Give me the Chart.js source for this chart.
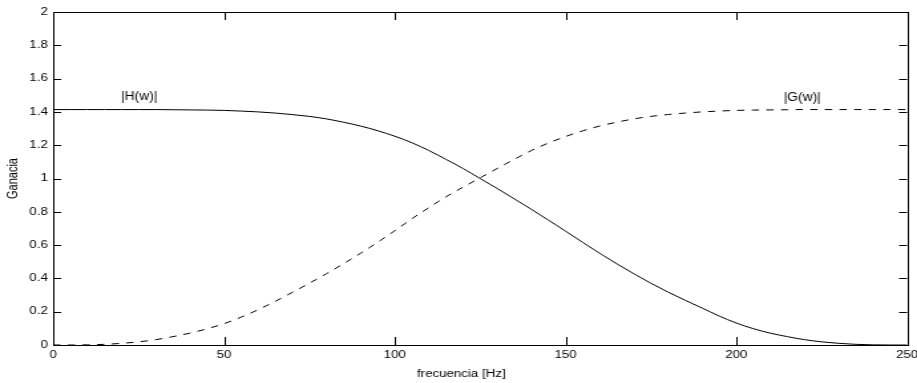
<!DOCTYPE html>
<html><head><meta charset="utf-8">
<script src="https://cdn.jsdelivr.net/npm/chart.js@4.4.1/dist/chart.umd.min.js"></script>
<style>
html,body{margin:0;padding:0;background:#fff;overflow:hidden;width:917px;height:383px;}
#wrap{position:absolute;left:0;top:0;width:690px;height:383px;transform:scale(1.328986,1);transform-origin:0 0;}
canvas{display:block;}
</style></head><body>
<div id="wrap"><canvas id="c" width="690" height="383"></canvas></div>
<script>
// frequency axis (Hz)
const freq = [0,5,10,15,20,25,30,35,40,45,50,55,60,65,70,75,80,85,90,95,100,105,110,115,120,125,130,135,140,145,150,155,160,165,170,175,180,185,190,195,200,205,210,215,220,225,230,235,240,245,250];
// |H(w)| (solid)
const hGain = [1.414,1.414,1.414,1.414,1.414,1.414,1.414,1.413,1.412,1.411,1.409,1.405,1.400,1.393,1.384,1.373,1.358,1.338,1.315,1.287,1.254,1.215,1.168,1.115,1.060,1.000,0.940,0.878,0.815,0.750,0.684,0.617,0.551,0.488,0.428,0.371,0.318,0.269,0.222,0.174,0.132,0.098,0.071,0.050,0.032,0.019,0.010,0.004,0.001,0.000,0.000];
// |G(w)| (dashed)
const gGain = [0.000,0.000,0.001,0.004,0.010,0.019,0.032,0.050,0.071,0.097,0.128,0.167,0.212,0.262,0.316,0.371,0.428,0.488,0.551,0.617,0.686,0.758,0.825,0.890,0.948,1.004,1.060,1.115,1.168,1.213,1.252,1.286,1.315,1.338,1.358,1.373,1.384,1.393,1.400,1.405,1.409,1.411,1.412,1.413,1.414,1.414,1.414,1.414,1.414,1.414,1.414];
const xTicks = [0,50,100,150,200,250];
const xTickLabels = ['0','50','100','150','200','250'];
const yTicks = [0,0.2,0.4,0.6,0.8,1,1.2,1.4,1.6,1.8,2];
const yTickLabels = ['0','0.2','0.4','0.6','0.8','1','1.2','1.4','1.6','1.8','2'];
const curveNames = ['|H(w)|','|G(w)|'];
const nameAnchors = [[25.2,1.495],[219.3,1.489]];
const xTitle = 'frecuencia [Hz]';
const xTitleAnchor = 119.5;

const FONT = '"Liberation Sans", Arial, Helvetica, sans-serif';

const boxPlugin = {
  id: 'matlabBox',
  afterDatasetsDraw(chart) {
    const {ctx, chartArea: a, scales: {x, y}} = chart;
    ctx.save();
    ctx.strokeStyle = '#000';
    ctx.lineWidth = 1;
    ctx.beginPath();
    xTicks.forEach(v => {
      const px = Math.round(x.getPixelForValue(v)) + 0.5;
      ctx.moveTo(px, a.bottom); ctx.lineTo(px, a.bottom - 8);
      ctx.moveTo(px, a.top); ctx.lineTo(px, a.top + 8);
    });
    yTicks.forEach(v => {
      const py = Math.round(y.getPixelForValue(v)) + 0.5;
      ctx.moveTo(a.left, py); ctx.lineTo(a.left + 6, py);
      ctx.moveTo(a.right, py); ctx.lineTo(a.right - 6, py);
    });
    ctx.stroke();
    ctx.strokeRect(Math.round(a.left) + 0.5, Math.round(a.top) + 0.5, Math.round(a.right - a.left), Math.round(a.bottom - a.top));
    ctx.fillStyle = '#000';
    ctx.textAlign = 'center';
    ctx.textBaseline = 'middle';
    // curve names (taller glyphs than the stretched tick labels)
    ctx.font = '13px ' + FONT;
    curveNames.forEach((n, i) => {
      ctx.save();
      ctx.translate(x.getPixelForValue(nameAnchors[i][0]), y.getPixelForValue(nameAnchors[i][1]));
      ctx.scale(0.8, 1);
      ctx.fillText(n, 0, 0);
      ctx.restore();
    });
    // x axis title
    ctx.font = '10px ' + FONT;
    ctx.fillText(xTitle, x.getPixelForValue(xTitleAnchor), 374);
    ctx.restore();
  }
};

new Chart(document.getElementById('c'), {
  type: 'line',
  data: {
    datasets: [
      {label: curveNames[0], data: freq.map((f, i) => ({x: f, y: hGain[i]})), borderColor: '#000', borderWidth: 1, pointRadius: 0, cubicInterpolationMode: 'monotone', fill: false},
      {label: curveNames[1], data: freq.map((f, i) => ({x: f, y: gGain[i]})), borderColor: '#000', borderWidth: 1, borderDash: [5.5, 5.5], pointRadius: 0, cubicInterpolationMode: 'monotone', fill: false}
    ]
  },
  options: {
    responsive: false,
    animation: false,
    devicePixelRatio: 1,
    layout: {padding: {left: 0, right: 7.5, top: 12, bottom: 0}},
    plugins: {legend: {display: false}, tooltip: {enabled: false}},
    scales: {
      x: {
        type: 'linear', min: 0, max: 250,
        afterBuildTicks: s => { s.ticks = xTicks.map(v => ({value: v})); },
        afterFit: s => { s.height = 38; s.paddingLeft = 0; s.paddingRight = 0; },
        grid: {display: false, drawTicks: false},
        border: {display: false},
        ticks: {padding: 4, color: '#000', font: {family: FONT, size: 10}, maxRotation: 0, autoSkip: false,
                callback: v => xTickLabels[xTicks.indexOf(v)]},
        title: {display: false}
      },
      y: {
        type: 'linear', min: 0, max: 2,
        afterBuildTicks: s => { s.ticks = yTicks.map(v => ({value: v})); },
        afterFit: s => { s.width = 40; s.paddingTop = 0; s.paddingBottom = 0; },
        grid: {display: false, drawTicks: false},
        border: {display: false},
        ticks: {padding: 4, color: '#000', font: {family: FONT, size: 10}, autoSkip: false,
                callback: v => yTickLabels[yTicks.indexOf(v)]},
        title: {display: true, text: 'Ganacia', color: '#000', font: {family: FONT, size: 11}, padding: {top: 3, bottom: 0}}
      }
    }
  },
  plugins: [boxPlugin]
});
</script>
</body></html>
